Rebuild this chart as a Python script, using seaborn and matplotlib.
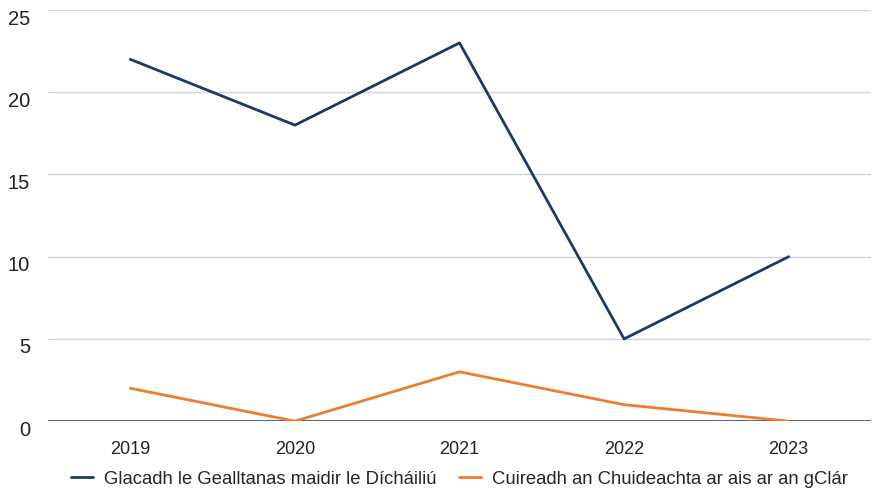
import matplotlib
matplotlib.use("Agg")
import matplotlib.pyplot as plt
import matplotlib.transforms as mtransforms
import seaborn as sns
import pandas as pd

years = ["2019", "2020", "2021", "2022", "2023"]
glacadh = [22, 18, 23, 5, 10]
cuireadh = [2, 0, 3, 1, 0]
series_names = ["Glacadh le Gealltanas maidir le Dícháiliú",
                "Cuireadh an Chuideachta ar ais ar an gClár"]
yticks = [0, 5, 10, 15, 20, 25]

df = pd.DataFrame({
    "year": years * 2,
    "value": glacadh + cuireadh,
    "series": [series_names[0]] * len(years) + [series_names[1]] * len(years),
})

sns.set_style("white")
plt.rcParams["font.family"] = ["Liberation Sans", "DejaVu Sans"]

fig = plt.figure(figsize=(8.74, 4.88), dpi=100)
ax = fig.add_axes([0.055, 0.137, 0.9415, 0.8425])

palette = {series_names[0]: "#1f3864", series_names[1]: "#ed7d31"}
sns.lineplot(data=df, x="year", y="value", hue="series", palette=palette,
             linewidth=2, ax=ax, sort=False)

ax.set_xlim(-0.5, len(years) - 0.5)
ax.set_ylim(0, 25)
ax.set_yticks(yticks)
ax.yaxis.grid(True, color="#d3d3dc", linewidth=1)
ax.set_axisbelow(True)
ax.axhline(0, color="#3c4a66", linewidth=1.2, zorder=1.5)
for s in ax.spines.values():
    s.set_visible(False)
ax.set_xlabel("")
ax.set_ylabel("")
ax.tick_params(axis="both", length=0, colors="#222222")
ax.tick_params(axis="y", labelsize=14.5, pad=13)
ax.tick_params(axis="x", labelsize=13, pad=14)

offset = mtransforms.ScaledTranslation(0, -7 / 100, fig.dpi_scale_trans)
for lbl in ax.get_yticklabels():
    lbl.set_transform(lbl.get_transform() + offset)

handles, labels = ax.get_legend_handles_labels()
ax.legend(handles, labels, loc="upper center", bbox_to_anchor=(0.5, -0.08),
          ncol=2, frameon=False, fontsize=13.3, handlelength=1.2,
          columnspacing=1.2, handletextpad=0.6)

fig.savefig("out.png", dpi=100)
